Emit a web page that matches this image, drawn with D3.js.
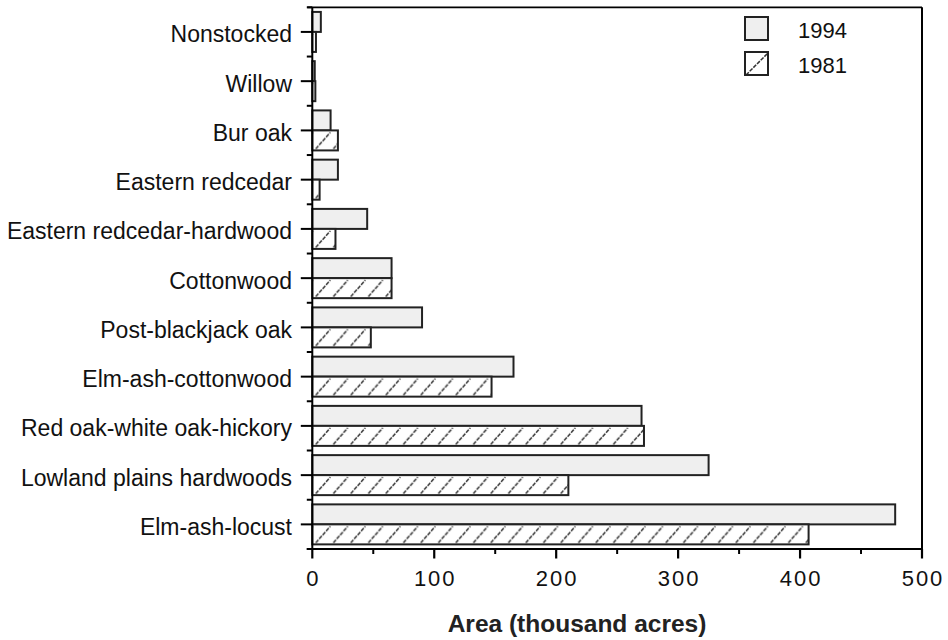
<!DOCTYPE html>
<html>
<head>
<meta charset="utf-8">
<script src="https://cdn.jsdelivr.net/npm/d3@7"></script>
<style>
  html, body { margin: 0; padding: 0; background: #fff; }
  svg { display: block; font-family: "Liberation Sans", Arial, Helvetica, sans-serif; }
</style>
</head>
<body>
<svg id="chart" width="948" height="640"></svg>
<script>
// Forest-type groups, listed top to bottom
const categories = [
  "Nonstocked", "Willow", "Bur oak", "Eastern redcedar",
  "Eastern redcedar-hardwood", "Cottonwood", "Post-blackjack oak",
  "Elm-ash-cottonwood", "Red oak-white oak-hickory",
  "Lowland plains hardwoods", "Elm-ash-locust"
];
// Area in thousand acres
const values1994 = [7, 2, 15, 21, 45, 65, 90, 165, 270, 325, 478];
const values1981 = [3, 2.5, 21, 6, 19, 65, 48, 147, 272, 210, 407];
const seriesNames = ["1994", "1981"];
const xTicks = [0, 100, 200, 300, 400, 500];
const xMinorTicks = [50, 150, 250, 350, 450];
const xTitle = "Area (thousand acres)";

(function () {
  const svg = d3.select("#chart");
  const plotL = 312.3, plotR = 922, plotT = 7.3, plotB = 549;

  const x = d3.scaleLinear().domain([0, 500]).range([plotL, plotR]);
  const y = d3.scaleBand().domain(categories).range([plotT, plotB]).padding(0);
  const barH = 20;
  const hatchW = 17.5;

  const defs = svg.append("defs");

  // Frame: top and right borders
  svg.append("line").attr("x1", plotL - 5).attr("x2", plotR).attr("y1", plotT).attr("y2", plotT)
    .attr("stroke", "#000").attr("stroke-width", 1.8);
  svg.append("line").attr("x1", plotR).attr("x2", plotR).attr("y1", plotT).attr("y2", plotB)
    .attr("stroke", "#000").attr("stroke-width", 2);

  const rows = categories.map((c, i) => ({ cat: c, v94: values1994[i], v81: values1981[i], i }));

  // Hatch pattern for each 1981 bar, anchored at that bar's origin
  rows.forEach(d => {
    const yc = y(d.cat) + y.bandwidth() / 2;
    const p = defs.append("pattern")
      .attr("id", "hatch" + d.i)
      .attr("patternUnits", "userSpaceOnUse")
      .attr("x", x(0) + 3).attr("y", yc)
      .attr("width", hatchW).attr("height", barH);
    p.append("rect").attr("width", hatchW).attr("height", barH).attr("fill", "#fff");
    p.append("line").attr("x1", 0.5).attr("y1", barH - 1.5).attr("x2", 15).attr("y2", 2)
      .attr("stroke", "#333").attr("stroke-width", 1.5).attr("stroke-dasharray", "4,1.2");
  });

  const g = svg.append("g");
  // 1994 bars (upper of each pair)
  g.selectAll("rect.b94").data(rows).join("rect")
    .attr("class", "b94")
    .attr("x", x(0))
    .attr("y", d => y(d.cat) + y.bandwidth() / 2 - barH)
    .attr("width", d => x(d.v94) - x(0))
    .attr("height", barH)
    .attr("fill", "#efefef").attr("stroke", "#222").attr("stroke-width", 2);
  // 1981 bars (lower of each pair)
  g.selectAll("rect.b81").data(rows).join("rect")
    .attr("class", "b81")
    .attr("x", x(0))
    .attr("y", d => y(d.cat) + y.bandwidth() / 2)
    .attr("width", d => x(d.v81) - x(0))
    .attr("height", barH)
    .attr("fill", d => "url(#hatch" + d.i + ")").attr("stroke", "#222").attr("stroke-width", 2);

  // Y axis: line, boundary ticks, centre ticks and labels
  svg.append("line").attr("x1", plotL).attr("x2", plotL).attr("y1", plotT).attr("y2", plotB)
    .attr("stroke", "#000").attr("stroke-width", 2);
  const bounds = categories.map(c => y(c)).concat([plotB]);
  svg.selectAll("line.ybound").data(bounds).join("line")
    .attr("class", "ybound")
    .attr("x1", plotL - 5.5).attr("x2", plotL).attr("y1", d => d).attr("y2", d => d)
    .attr("stroke", "#000").attr("stroke-width", 2);
  svg.selectAll("line.ytick").data(categories).join("line")
    .attr("class", "ytick")
    .attr("x1", plotL - 11.5).attr("x2", plotL)
    .attr("y1", d => y(d) + y.bandwidth() / 2).attr("y2", d => y(d) + y.bandwidth() / 2)
    .attr("stroke", "#000").attr("stroke-width", 2);
  svg.selectAll("text.ylab").data(categories).join("text")
    .attr("class", "ylab")
    .attr("x", 292)
    .attr("y", d => y(d) + y.bandwidth() / 2 + 10.5)
    .attr("text-anchor", "end")
    .attr("font-size", 23).attr("fill", "#111")
    .text(d => d);

  // X axis: line, major and minor ticks, labels
  svg.append("line").attr("x1", plotL - 5.5).attr("x2", plotR + 1).attr("y1", plotB).attr("y2", plotB)
    .attr("stroke", "#000").attr("stroke-width", 2.2);
  svg.selectAll("line.xmajor").data(xTicks).join("line")
    .attr("class", "xmajor")
    .attr("x1", d => x(d)).attr("x2", d => x(d))
    .attr("y1", plotB).attr("y2", plotB + 9.5)
    .attr("stroke", "#000").attr("stroke-width", 2.2);
  svg.selectAll("line.xminor").data(xMinorTicks).join("line")
    .attr("class", "xminor")
    .attr("x1", d => x(d)).attr("x2", d => x(d))
    .attr("y1", plotB).attr("y2", plotB + 5)
    .attr("stroke", "#000").attr("stroke-width", 2);
  svg.selectAll("text.xlab").data(xTicks).join("text")
    .attr("class", "xlab")
    .attr("x", d => x(d) + 1)
    .attr("y", 586)
    .attr("text-anchor", "middle")
    .attr("font-size", 22).attr("letter-spacing", 2).attr("fill", "#111")
    .text(d => d);

  svg.append("text")
    .attr("x", 577).attr("y", 632)
    .attr("text-anchor", "middle")
    .attr("font-size", 24.5).attr("font-weight", "bold").attr("fill", "#222")
    .text(xTitle);

  // Legend
  const legendPat = defs.append("pattern")
    .attr("id", "legendHatch").attr("patternUnits", "userSpaceOnUse")
    .attr("x", 745).attr("y", 52).attr("width", 24).attr("height", 24);
  legendPat.append("rect").attr("width", 24).attr("height", 24).attr("fill", "#fff");
  legendPat.append("line").attr("x1", 1).attr("y1", 23).attr("x2", 23).attr("y2", 1)
    .attr("stroke", "#333").attr("stroke-width", 1.5).attr("stroke-dasharray", "4,1.2");

  const legend = svg.append("g");
  const legendFills = ["#efefef", "url(#legendHatch)"];
  const legendY = [17, 52];
  seriesNames.forEach((name, i) => {
    legend.append("rect")
      .attr("x", 745).attr("y", legendY[i]).attr("width", 23).attr("height", 23)
      .attr("fill", legendFills[i]).attr("stroke", "#222").attr("stroke-width", 2);
    legend.append("text")
      .attr("x", 798).attr("y", legendY[i] + 21)
      .attr("font-size", 22).attr("fill", "#111")
      .text(name);
  });
})();
</script>
</body>
</html>
